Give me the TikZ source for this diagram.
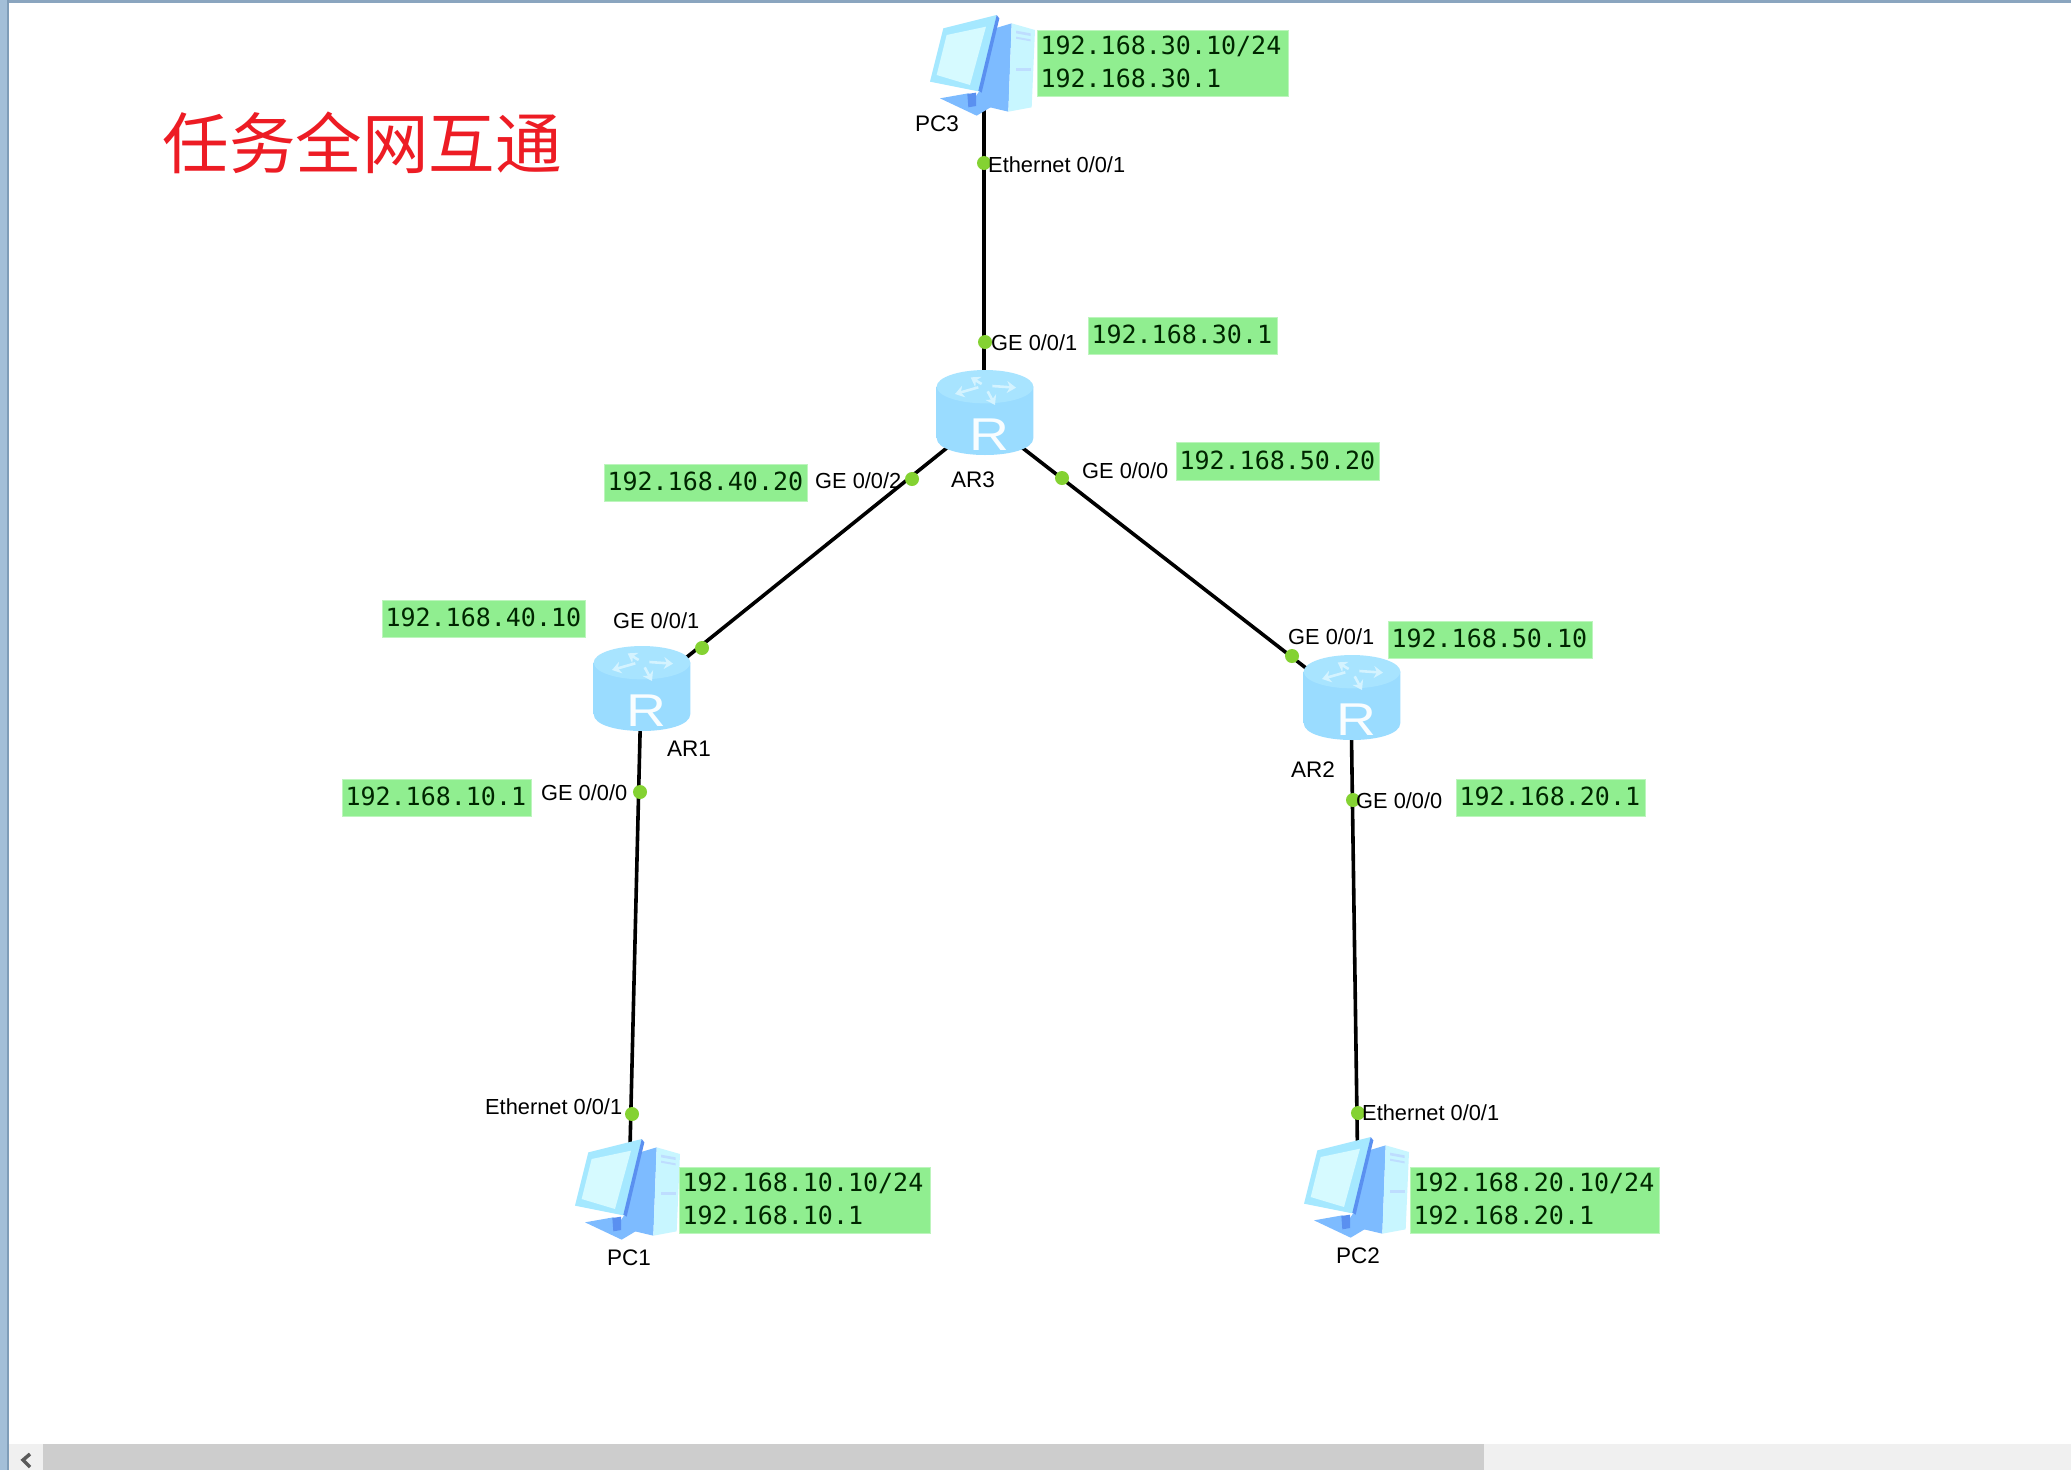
\documentclass[tikz,border=0pt]{standalone}
\usepackage{fontspec}
\setmainfont{Liberation Sans}
\newfontfamily\monofnt{DejaVu Sans Mono}
\newfontfamily\cjkfnt{Noto Sans CJK SC}
\usetikzlibrary{arrows.meta}
\definecolor{boxgreen}{HTML}{90EE90}
\definecolor{boxedge}{HTML}{BDF5BD}
\definecolor{portgreen}{HTML}{84D232}
\definecolor{titlered}{HTML}{ED1C24}
\definecolor{CBluea}{HTML}{9ADCFF}
\definecolor{CBlueb}{HTML}{7EC8FF}
\definecolor{CBluec}{HTML}{A8E4FF}
\definecolor{CArrow}{HTML}{D4F3FF}
\definecolor{PCtower}{HTML}{7DBBFF}
\definecolor{PCside}{HTML}{C8F6FF}
\definecolor{PCframe}{HTML}{A5E8FF}
\definecolor{PCblue}{HTML}{5A90F0}
\definecolor{PCscreen}{HTML}{D6FAFF}
\definecolor{ChromeTop}{HTML}{8AA5BF}
\definecolor{ChromeSide}{HTML}{A3BFD8}
\definecolor{ChromeEdge}{HTML}{7F9DB8}
\definecolor{ScrollTrack}{HTML}{F0F0F0}
\definecolor{ScrollThumb}{HTML}{CDCDCD}
\definecolor{ScrollArrow}{HTML}{5A5A5A}
\tikzset{
  link/.style={line width=3.6pt,black},
  portdot/.style={circle,fill=portgreen,inner sep=0pt,minimum size=14pt},
  portlabel/.style={anchor=west,inner sep=0pt,font=\fontsize{21.8}{24}\selectfont},
  devname/.style={inner sep=0pt,font=\fontsize{22.5}{25}\selectfont},
  ipbox/.style={anchor=north west,fill=boxgreen,draw=boxedge,line width=1pt,inner xsep=3pt,inner ysep=0pt,align=left,
    font=\monofnt\fontsize{25}{33}\selectfont,text=black!85!green,
    execute at end node={\rule[-3pt]{0pt}{0pt}}},
  devbox/.style={inner sep=0pt,minimum width=90pt,minimum height=90pt},
  pics/router/.style={code={
    \begin{scope}[x=.3333pt,y=-.3333pt]
      \shade[left color=CBluea,middle color=CBlueb,right color=CBluea]
        (-142,-94) -- (-142,60) .. controls (-142,128) and (148,128) .. (148,60) -- (148,-94) -- cycle;
      \fill[CBluec] (3,-94) ellipse[x radius=145,y radius=50];
      \begin{scope}[shift={(3,-94)},CArrow,line width=2.6pt,-{Stealth[length=9pt,width=12pt]}]
        \draw (-10,-8) -- (-43,-28);
        \draw (22,-2) -- (93,3);
        \draw (8,14) -- (30,55);
        \draw (-20,2) -- (-90,22);
      \end{scope}
      \node[inner sep=0pt,text=white!92!CBluec,xscale=1.2,font=\fontsize{46}{48}\selectfont] (-R) at (15,51) {R};
    \end{scope}}},
  pics/pcicon/.style={code={
    \begin{scope}[x=.3333pt,y=-.3333pt,shift={(-312,-195)}]
      \fill[PCtower] (345,85) -- (395,70) -- (385,335) -- (330,322) -- (280,300) -- (300,270) -- cycle;
      \fill[PCside] (395,70) -- (465,90) -- (455,322) -- (385,335) -- cycle;
      \fill[PCtower!50!white] (408,92) -- (452,100) -- (452,108) -- (408,100) -- cycle;
      \fill[PCtower!50!white] (408,110) -- (452,118) -- (452,124) -- (408,116) -- cycle;
      \fill[PCtower!50!white] (408,205) -- (452,205) -- (452,212) -- (408,212) -- cycle;
      \fill[PCtower] (180,295) -- (265,280) -- (335,320) -- (290,347) -- cycle;
      \fill[PCblue] (262,282) -- (288,278) -- (288,318) -- (265,322) -- cycle;
      \fill[PCframe] (190,85) -- (350,45) -- (300,275) -- (150,245) -- cycle;
      \fill[PCblue] (350,45) -- (358,55) -- (305,278) -- (295,272) -- cycle;
      \fill[PCscreen] (200,105) -- (318,80) -- (270,255) -- (170,225) -- cycle;
    \end{scope}}}
}
\begin{document}
\begin{tikzpicture}[x=1pt,y=-1pt]
\useasboundingbox (0,0) rectangle (2071,1470);
\fill[white] (0,0) rectangle (2071,1470);
% window chrome
\fill[ChromeTop] (0,0) rectangle (2071,3);
\fill[ChromeSide] (0,0) rectangle (7,1470);
\fill[ChromeEdge] (7,0) rectangle (9,1470);
\fill[ScrollTrack] (9,1444) rectangle (2071,1470);
\fill[ScrollThumb] (43,1444) rectangle (1484,1470);
\draw[line width=3.5pt,ScrollArrow] (30,1454) -- (23,1460) -- (30,1467);
% title
\node[inner sep=0pt,text=titlered,font=\cjkfnt\fontsize{66.5}{70}\selectfont] (title) at (362,143) {任务全网互通};
% devices (anchors for the links)
\node[devbox] (ar3) at (984,418) {};
\node[devbox] (ar1) at (641,694) {};
\node[devbox] (ar2) at (1351,703) {};
\node[devbox] (pc3) at (984,65) {};
\node[devbox] (pc1) at (629,1189) {};
\node[devbox] (pc2) at (1358,1187) {};
% links
\draw[link] (pc3.center) -- (ar3.center);
\draw[link] (ar3.center) -- (ar1.center);
\draw[link] (ar3.center) -- (ar2.center);
\draw[link] (ar1.center) -- (pc1.center);
\draw[link] (ar2.center) -- (pc2.center);
% icons
\pic (ar3i) at (ar3.center) {router};
\pic (ar1i) at (ar1.center) {router};
\pic (ar2i) at (ar2.center) {router};
\pic (pc3i) at (pc3.center) {pcicon};
\pic (pc1i) at (pc1.center) {pcicon};
\pic (pc2i) at (pc2.center) {pcicon};
% port dots
\node[portdot] (d1) at (984,163) {};
\node[portdot] (d2) at (985,342) {};
\node[portdot] (d3) at (912,479) {};
\node[portdot] (d4) at (1062,478) {};
\node[portdot] (d5) at (702,648) {};
\node[portdot] (d6) at (640,792) {};
\node[portdot] (d7) at (1292,656) {};
\node[portdot] (d8) at (1353,800) {};
\node[portdot] (d9) at (632,1114) {};
\node[portdot] (d10) at (1358,1113) {};
% port labels
\node[portlabel] (l1) at (988,165) {Ethernet 0/0/1};
\node[portlabel] (l2) at (991,343) {GE 0/0/1};
\node[portlabel] (l3) at (815,481) {GE 0/0/2};
\node[portlabel] (l4) at (1082,471) {GE 0/0/0};
\node[portlabel] (l5) at (613,621) {GE 0/0/1};
\node[portlabel] (l6) at (541,793) {GE 0/0/0};
\node[portlabel] (l7) at (1288,637) {GE 0/0/1};
\node[portlabel] (l8) at (1356,801) {GE 0/0/0};
\node[portlabel] (l9) at (485,1107) {Ethernet 0/0/1};
\node[portlabel] (l10) at (1362,1113) {Ethernet 0/0/1};
% device names
\node[devname] (n1) at (937,124) {PC3};
\node[devname] (n2) at (973,480) {AR3};
\node[devname] (n3) at (689,749) {AR1};
\node[devname] (n4) at (1313,770) {AR2};
\node[devname] (n5) at (629,1258) {PC1};
\node[devname] (n6) at (1358,1256) {PC2};
% address boxes
\node[ipbox,text width=245pt,minimum height=66pt] (b1) at (1037,30) {192.168.30.10/24\\192.168.30.1};
\node[ipbox,text width=183pt,minimum height=37pt] (b2) at (1088,317) {192.168.30.1};
\node[ipbox,text width=197pt,minimum height=38pt] (b3) at (1176,442) {192.168.50.20};
\node[ipbox,text width=197pt,minimum height=37pt] (b4) at (604,464) {192.168.40.20};
\node[ipbox,text width=197pt,minimum height=37pt] (b5) at (382,600) {192.168.40.10};
\node[ipbox,text width=198pt,minimum height=37pt] (b6) at (1388,621) {192.168.50.10};
\node[ipbox,text width=183pt,minimum height=37pt] (b7) at (342,779) {192.168.10.1};
\node[ipbox,text width=183pt,minimum height=37pt] (b8) at (1456,779) {192.168.20.1};
\node[ipbox,text width=245pt,minimum height=66pt] (b9) at (679,1167) {192.168.10.10/24\\192.168.10.1};
\node[ipbox,text width=243pt,minimum height=66pt] (b10) at (1410,1167) {192.168.20.10/24\\192.168.20.1};
\end{tikzpicture}
\end{document}
